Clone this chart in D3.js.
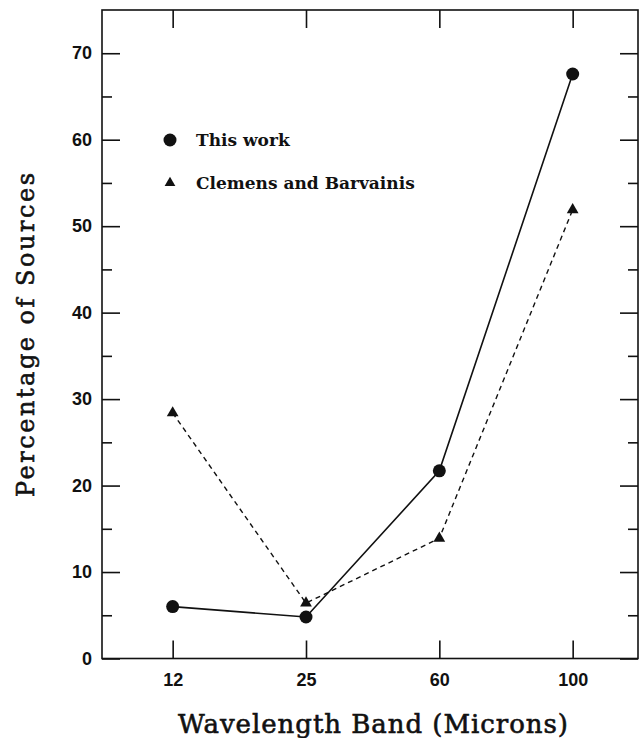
<!DOCTYPE html>
<html>
<head>
<meta charset="utf-8">
<script src="https://cdn.jsdelivr.net/npm/d3@7"></script>
<style>
  html, body { margin: 0; padding: 0; background: #fff; }
  svg { display: block; }
</style>
</head>
<body>
<svg id="chart" width="642" height="738"></svg>
<script>
// Infrared bands and detection percentages
const bands = ["12", "25", "60", "100"];
const thisWork = [6.0, 4.8, 21.7, 67.6];
const clemens = [28.4, 6.4, 13.9, 51.9];
const yTicks = [0, 10, 20, 30, 40, 50, 60, 70];
const legendLabels = ["This work", "Clemens and Barvainis"];

const svg = d3.select("#chart");
const plotL = 102, plotR = 638, plotT = 10, plotB = 658.5;

const x = d3.scaleLinear().domain([-0.53, 3.49]).range([plotL, plotR]);
const y = d3.scaleLinear().domain([0, 75]).range([plotB, plotT]);

const ink = "#111";

// frame
svg.append("rect")
  .attr("x", plotL).attr("y", plotT)
  .attr("width", plotR - plotL).attr("height", plotB - plotT)
  .attr("fill", "none").attr("stroke", ink).attr("stroke-width", 1.6);

function styleTicks(g) {
  g.select(".domain").remove();
  g.selectAll(".tick line").attr("stroke", ink).attr("stroke-width", 1.6);
  g.selectAll(".tick text")
    .attr("fill", ink)
    .style("font-family", "'Liberation Sans', Arial, sans-serif")
    .style("font-weight", "bold").style("font-size", "18px");
}

// y axis (major ticks inward, labelled on left), minor every 5
const minor = d3.range(5, 75, 10);
svg.append("g").attr("transform", `translate(${plotL},0)`)
  .call(d3.axisLeft(y).tickValues(yTicks).tickSize(-18).tickPadding(10).tickFormat(d3.format("d")))
  .call(styleTicks);
svg.append("g").attr("transform", `translate(${plotL},0)`)
  .call(d3.axisLeft(y).tickValues(minor).tickSize(-10).tickFormat(""))
  .call(styleTicks);

// right-side ticks
svg.append("g").attr("transform", `translate(${plotR},0)`)
  .call(d3.axisRight(y).tickValues(yTicks).tickSize(-18).tickFormat(""))
  .call(styleTicks);
svg.append("g").attr("transform", `translate(${plotR},0)`)
  .call(d3.axisRight(y).tickValues(minor).tickSize(-10).tickFormat(""))
  .call(styleTicks);

// x axis
const xIdx = bands.map((_, i) => i);
svg.append("g").attr("transform", `translate(0,${plotB})`)
  .call(d3.axisBottom(x).tickValues(xIdx).tickSize(-18).tickPadding(15).tickFormat(i => bands[i]))
  .call(styleTicks);
svg.append("g").attr("transform", `translate(0,${plotT})`)
  .call(d3.axisTop(x).tickValues(xIdx).tickSize(-18).tickFormat(""))
  .call(styleTicks);

// series lines
const line = d3.line().x((d, i) => x(i)).y(d => y(d));
svg.append("path").datum(clemens).attr("d", line)
  .attr("fill", "none").attr("stroke", ink).attr("stroke-width", 1.4)
  .attr("stroke-dasharray", "5,4");
svg.append("path").datum(thisWork).attr("d", line)
  .attr("fill", "none").attr("stroke", ink).attr("stroke-width", 1.6);

// markers
const tri = d3.symbol().type(d3.symbolTriangle).size(60);
svg.append("g").selectAll("path").data(clemens).join("path")
  .attr("d", tri)
  .attr("transform", (d, i) => `translate(${x(i)},${y(d)})`)
  .attr("fill", ink);
svg.append("g").selectAll("circle").data(thisWork).join("circle")
  .attr("cx", (d, i) => x(i)).attr("cy", d => y(d)).attr("r", 6.5)
  .attr("fill", ink);

// legend
const legend = svg.append("g");
const lx = 170, ly = [140, 183];
legend.append("circle").attr("cx", lx).attr("cy", ly[0]).attr("r", 6.5).attr("fill", ink);
legend.append("path").attr("d", d3.symbol().type(d3.symbolTriangle).size(50)())
  .attr("transform", `translate(${lx},${ly[1]})`).attr("fill", ink);
legend.selectAll("text").data(legendLabels).join("text")
  .attr("x", 196).attr("y", (d, i) => ly[i] + 6)
  .attr("fill", ink)
  .style("font-family", "'DejaVu Serif', serif")
  .style("font-weight", "bold").style("font-size", "17px")
  .text(d => d);

// axis titles
svg.append("text")
  .attr("x", 373).attr("y", 733)
  .attr("text-anchor", "middle").attr("fill", ink)
  .attr("textLength", 390).attr("lengthAdjust", "spacing")
  .style("font-family", "'DejaVu Serif', serif")
  .style("font-size", "26px").style("stroke", ink).style("stroke-width", 0.6)
  .text("Wavelength Band (Microns)");
svg.append("text")
  .attr("transform", `translate(34,335) rotate(-90)`)
  .attr("text-anchor", "middle").attr("fill", ink)
  .attr("textLength", 324).attr("lengthAdjust", "spacing")
  .style("font-family", "'DejaVu Serif', serif")
  .style("font-size", "24px").style("stroke", ink).style("stroke-width", 0.6)
  .text("Percentage of Sources");
</script>
</body>
</html>
